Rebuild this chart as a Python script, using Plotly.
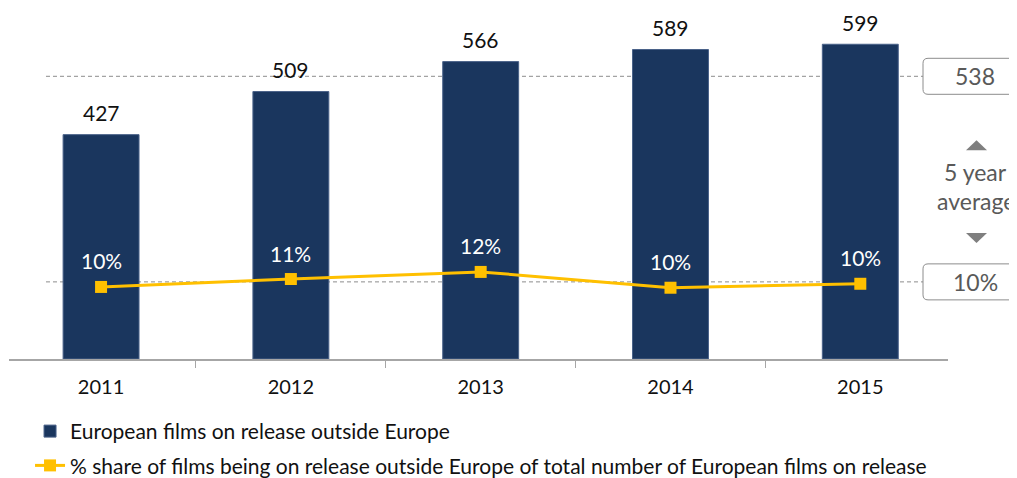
import plotly.graph_objects as go

years = ["2011", "2012", "2013", "2014", "2015"]
films_outside = [427, 509, 566, 589, 599]
share_pct = [9.7, 10.7, 11.6, 9.6, 10.1]
bar_name = "European films on release outside Europe"
line_name = "% share of films being on release outside Europe of total number of European films on release"
avg_label_1 = "5 year"
avg_label_2 = "average"

avg_films = sum(films_outside) / len(films_outside)
avg_share = sum(share_pct) / len(share_pct)

FONT = "Lato"
NAVY = "#1a365e"
GOLD = "#FFC000"
GREY_TXT = "#595959"
GREY_LN = "#8c8c8c"

# the page body has an 8px margin, so the figure is offset by 8px in the window
PLOT_H = 352.7


def py(screen_y):
    return 1 - (screen_y - 8) / PLOT_H


fig = go.Figure()
fig.add_trace(go.Bar(
    x=years, y=films_outside, name=bar_name, width=0.4,
    marker=dict(color=NAVY, line=dict(color="#4a6289", width=1)),
    legendgroup="a", hoverinfo="skip",
))
fig.add_trace(go.Scatter(
    x=years, y=share_pct, name=line_name, yaxis="y2", mode="lines+markers",
    line=dict(color=GOLD, width=3), marker=dict(symbol="square", size=12, color=GOLD),
    legendgroup="b", hoverinfo="skip",
))

annotations = []
for i, v in enumerate(films_outside):
    annotations.append(dict(x=i, y=v, xref="x", yref="y", text=str(v), showarrow=False,
                            yshift=22, font=dict(family=FONT, size=21, color="#111111")))
for i, v in enumerate(share_pct):
    annotations.append(dict(x=i, y=v, xref="x", yref="y2", text=f"{v:.0f}%", showarrow=False,
                            yshift=26, font=dict(family=FONT, size=21, color="white")))

# right-hand average boxes text
annotations.append(dict(x=1.0288, y=avg_films, xref="paper", yref="y", text=f"{avg_films:.0f}",
                        showarrow=False, xanchor="center",
                        font=dict(family=FONT, size=23, color=GREY_TXT)))
annotations.append(dict(x=1.0288, y=avg_share, xref="paper", yref="y2", text=f"{avg_share:.0f}%",
                        showarrow=False, xanchor="center",
                        font=dict(family=FONT, size=23, color=GREY_TXT)))
annotations.append(dict(x=1.0298, y=py(173), xref="paper", yref="paper", text=avg_label_1,
                        showarrow=False, xanchor="center", yanchor="middle",
                        font=dict(family=FONT, size=23, color=GREY_TXT)))
annotations.append(dict(x=1.0298, y=py(202), xref="paper", yref="paper", text=avg_label_2,
                        showarrow=False, xanchor="center", yanchor="middle",
                        font=dict(family=FONT, size=23, color=GREY_TXT)))


def rounded_box(w_left, w_right, h, r):
    return (f"M{w_left + r},{-h} L{w_right - r},{-h} Q{w_right},{-h} {w_right},{-h + r} "
            f"L{w_right},{h - r} Q{w_right},{h} {w_right - r},{h} L{w_left + r},{h} "
            f"Q{w_left},{h} {w_left},{h - r} L{w_left},{-h + r} Q{w_left},{-h} {w_left + r},{-h} Z")


shapes = [
    dict(type="line", xref="paper", yref="y", x0=0.0394, x1=0.9734, y0=avg_films, y1=avg_films,
         line=dict(color=GREY_LN, width=1, dash="4px,3px"), layer="below"),
    dict(type="line", xref="paper", yref="y2", x0=0.0394, x1=0.9734, y0=avg_share, y1=avg_share,
         line=dict(color=GREY_LN, width=1, dash="4px,3px"), layer="below"),
    dict(type="path", xref="paper", yref="y", xsizemode="pixel", ysizemode="pixel",
         xanchor=1.0, yanchor=avg_films, path=rounded_box(-25, 85, 18, 5),
         line=dict(color="#8c8c8c", width=1), fillcolor="white"),
    dict(type="path", xref="paper", yref="y2", xsizemode="pixel", ysizemode="pixel",
         xanchor=1.0, yanchor=avg_share, path=rounded_box(-25, 85, 18, 5),
         line=dict(color="#8c8c8c", width=1), fillcolor="white"),
    # up / down triangles
    dict(type="path", xref="paper", yref="paper", xsizemode="pixel", ysizemode="pixel",
         xanchor=1.0, yanchor=py(146), path="M18,-5 L39,-5 L28.5,5 Z",
         line=dict(width=0), fillcolor="#7f7f7f"),
    dict(type="path", xref="paper", yref="paper", xsizemode="pixel", ysizemode="pixel",
         xanchor=1.0, yanchor=py(239), path="M18,5 L39,5 L28.5,-5 Z",
         line=dict(width=0), fillcolor="#7f7f7f"),
]

fig.update_layout(
    width=1009, height=478,
    margin=dict(l=1, r=69, t=0, b=125.3),
    paper_bgcolor="white", plot_bgcolor="white",
    font=dict(family=FONT, size=20, color="#111111"),
    showlegend=True,
    legend=dict(x=0.0224, y=-0.148, xanchor="left", yanchor="top", orientation="v",
                tracegroupgap=4, font=dict(family=FONT, size=21, color="#111111"),
                bgcolor="rgba(0,0,0,0)"),
    xaxis=dict(type="category", range=[-0.485, 4.462], showline=True, linecolor="#a6a6a6",
               linewidth=1.5, ticks="outside", tickson="boundaries", ticklen=7, tickcolor="#a6a6a6",
               showgrid=False, zeroline=False, ticklabelstandoff=9,
               tickfont=dict(family=FONT, size=20, color="#111111")),
    yaxis=dict(range=[0, 668], visible=False, showgrid=False, zeroline=False),
    yaxis2=dict(range=[0.58, 45.0], overlaying="y", visible=False, showgrid=False, zeroline=False),
    annotations=annotations, shapes=shapes,
    bargap=0.6,
)

fig.write_html("out.html")
